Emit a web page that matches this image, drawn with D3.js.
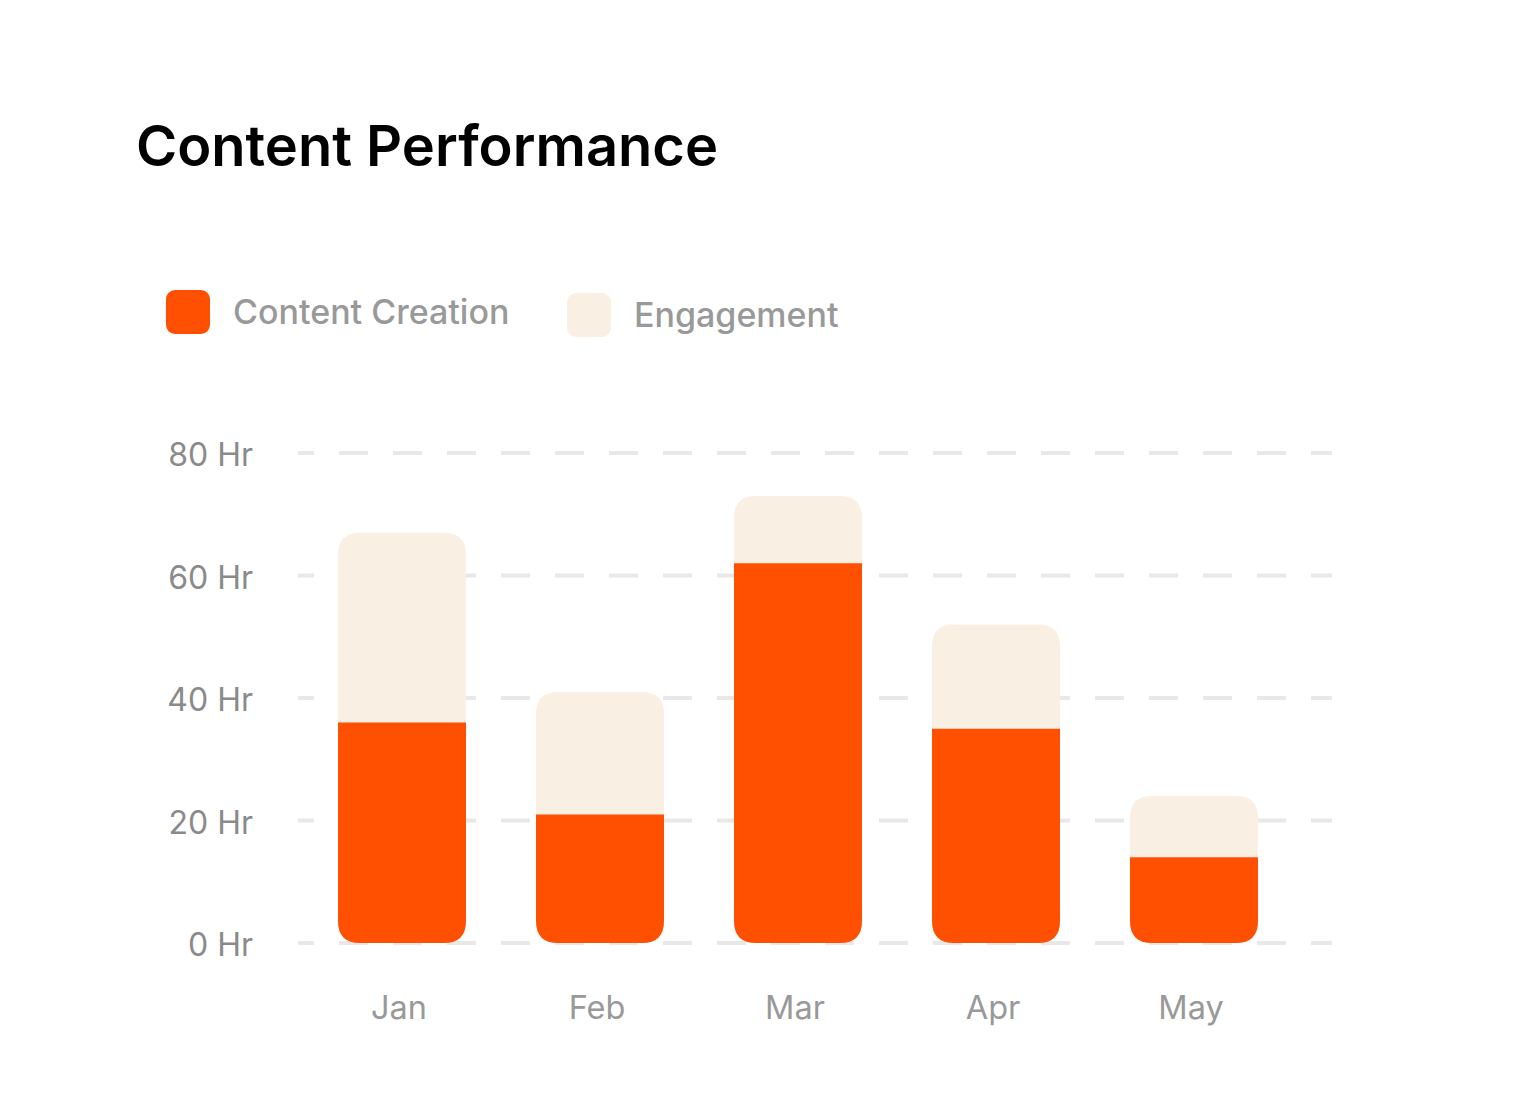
<!DOCTYPE html>
<html>
<head>
    <title>Content Performance</title>
    <style>
        body, html {
            margin: 0;
            background: #ffffff;
        }
        .title {
            font: 600 56px Inter, sans-serif;
            fill: #000000;
        }
        .legend-label {
            font: 500 34px Inter, sans-serif;
            fill: #999999;
        }
        .axis-label {
            font: 400 32px Inter, sans-serif;
            fill: #8a8a8a;
        }
        .month-label {
            font: 400 32.5px Inter, sans-serif;
            fill: #999999;
            text-anchor: middle;
        }
    </style>
    <script src="https://d3js.org/d3.v7.min.js"></script>
</head>
<body>
    <svg width="1538" height="1108"></svg>
<script>
    const months = ['Jan', 'Feb', 'Mar', 'Apr', 'May'];
    const creation = [36, 21, 62, 35, 14];
    const engagement = [31, 20, 11, 17, 10];
    const yTicks = [0, 20, 40, 60, 80];
    const seriesNames = ['Content Creation', 'Engagement'];
    const colors = ['#ff4f00', '#f9efe3'];

    const svg = d3.select('svg');

    svg.append('text')
        .attr('class', 'title')
        .attr('x', 136)
        .attr('y', 166)
        .text('Content Performance');

    // legend
    const legendX = [166, 567];
    const legendY = [290, 293];
    seriesNames.forEach((name, i) => {
        svg.append('rect')
            .attr('x', legendX[i])
            .attr('y', legendY[i])
            .attr('width', 44)
            .attr('height', 44)
            .attr('rx', 9)
            .attr('fill', colors[i]);
        svg.append('text')
            .attr('class', 'legend-label')
            .attr('x', legendX[i] + 67)
            .attr('y', legendY[i] + 34)
            .text(name);
    });

    const x = d3.scaleBand()
        .domain(months)
        .range([303, 1293])
        .paddingInner(0.3535)
        .paddingOuter(0.3535 / 2);

    const y = d3.scaleLinear()
        .domain([0, 80])
        .range([943, 453]);

    // grid lines
    svg.append('g')
        .selectAll('line')
        .data(yTicks)
        .join('line')
        .attr('x1', 298)
        .attr('x2', 1332)
        .attr('y1', d => y(d))
        .attr('y2', d => y(d))
        .attr('stroke', '#e8e8e8')
        .attr('stroke-width', 4)
        .attr('stroke-dasharray', '29,25')
        .attr('stroke-dashoffset', 13);

    svg.append('g')
        .selectAll('text')
        .data(yTicks)
        .join('text')
        .attr('class', 'axis-label')
        .attr('x', 253)
        .attr('y', d => y(d) + 13)
        .attr('text-anchor', 'end')
        .text(d => d + ' Hr');

    const r = 22;
    // path with rounded bottom corners only
    function bottomRounded(x0, y0, w, h) {
        const rr = Math.min(r, h, w / 2);
        return `M${x0},${y0}H${x0 + w}V${y0 + h - rr}` +
            `Q${x0 + w},${y0 + h} ${x0 + w - rr},${y0 + h}` +
            `H${x0 + rr}Q${x0},${y0 + h} ${x0},${y0 + h - rr}Z`;
    }
    function topRounded(x0, y0, w, h) {
        const rr = Math.min(r, h, w / 2);
        return `M${x0},${y0 + h}V${y0 + rr}Q${x0},${y0} ${x0 + rr},${y0}` +
            `H${x0 + w - rr}Q${x0 + w},${y0} ${x0 + w},${y0 + rr}` +
            `V${y0 + h}Z`;
    }

    const bars = months.map((m, i) => ({ m, c: creation[i], e: engagement[i] }));

    svg.append('g')
        .selectAll('path')
        .data(bars)
        .join('path')
        .attr('fill', colors[1])
        .attr('d', d => topRounded(x(d.m), y(d.c + d.e), x.bandwidth(), y(d.c) - y(d.c + d.e) + 1));

    svg.append('g')
        .selectAll('path')
        .data(bars)
        .join('path')
        .attr('fill', colors[0])
        .attr('d', d => bottomRounded(x(d.m), y(d.c), x.bandwidth(), y(0) - y(d.c)));

    svg.append('g')
        .selectAll('text')
        .data(months)
        .join('text')
        .attr('class', 'month-label')
        .attr('x', d => x(d) + x.bandwidth() / 2 - 3)
        .attr('y', 1019)
        .text(d => d);
</script>
</body>
</html>
